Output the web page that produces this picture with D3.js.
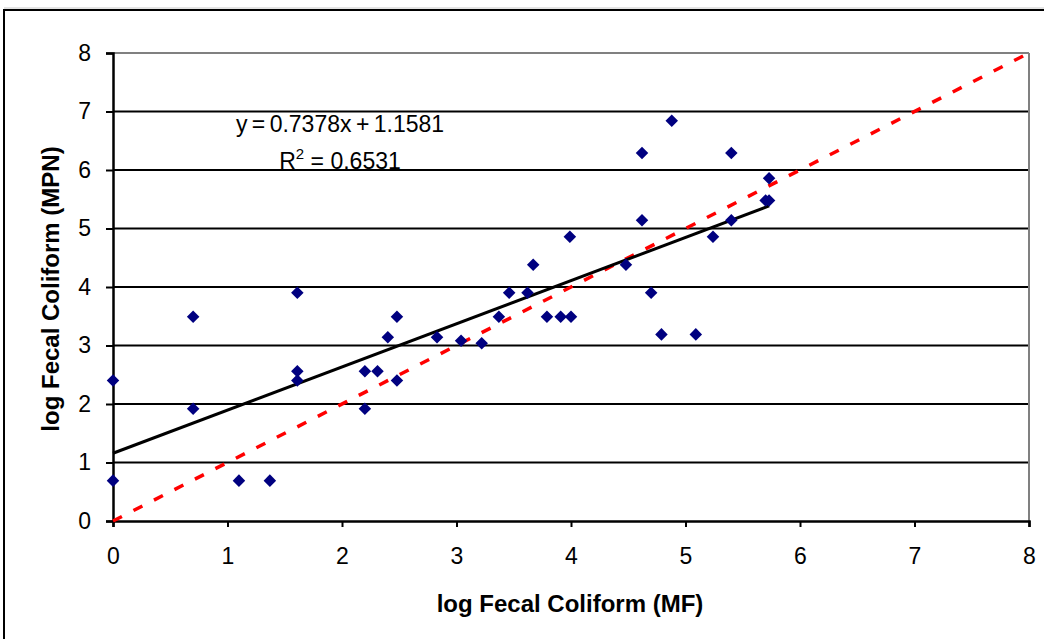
<!DOCTYPE html>
<html>
<head>
<meta charset="utf-8">
<script src="https://cdn.jsdelivr.net/npm/d3@7"></script>
<style>
  body { margin: 0; background: #fff; }
  svg { display: block; font-family: "Liberation Sans", Arial, sans-serif; }
</style>
</head>
<body>
<svg id="chart" width="1044" height="639"></svg>
<script>
"use strict";

// Points: log MF (x) vs log MPN (y)
var mf_values  = [0, 0, 0.70, 0.70, 1.10, 1.37, 1.61, 1.61, 1.61, 2.20, 2.20, 2.31, 2.40, 2.48, 2.48,
                  2.83, 3.04, 3.22, 3.37, 3.46, 3.62, 3.67, 3.79, 3.91, 4.00, 3.99, 4.48, 4.62, 4.62,
                  4.88, 4.70, 4.79, 5.09, 5.24, 5.40, 5.40, 5.73, 5.70, 5.73];
var mpn_values = [2.40, 0.69, 3.49, 1.92, 0.69, 0.69, 3.90, 2.56, 2.40, 2.56, 1.92, 2.56, 3.14, 3.49, 2.40,
                  3.14, 3.08, 3.04, 3.49, 3.90, 3.90, 4.38, 3.49, 3.49, 3.49, 4.86, 4.38, 5.14, 6.29,
                  6.84, 3.90, 3.19, 3.19, 4.86, 5.14, 6.29, 5.86, 5.48, 5.48];
var x_ticks = [0, 1, 2, 3, 4, 5, 6, 7, 8];
var y_ticks = [0, 1, 2, 3, 4, 5, 6, 7, 8];
var fit_slope = 0.7378;
var fit_intercept = 1.1581;
var fit_r2 = "0.6531";

var svg = d3.select("#chart");

// outer chart frame
svg.append("line").attr("x1", 4).attr("x2", 1044).attr("y1", 8).attr("y2", 8)
    .attr("stroke", "#c8c8c8").attr("stroke-width", 1);
svg.append("rect").attr("x", 4).attr("y", 10).attr("width", 1060).attr("height", 660)
    .attr("fill", "none").attr("stroke", "#000").attr("stroke-width", 2);

var plot_left = 113, plot_right = 1029, plot_top = 53, plot_bottom = 521;
var x = d3.scaleLinear().domain([0, 8]).range([plot_left, plot_right]);
var y = d3.scaleLinear().domain([0, 8]).range([plot_bottom, plot_top]);

// gridlines
svg.append("g").selectAll("line").data(y_ticks.filter(function(d) { return d > 0; }))
    .join("line")
    .attr("x1", plot_left).attr("x2", plot_right)
    .attr("y1", function(d) { return y(d); }).attr("y2", function(d) { return y(d); })
    .attr("stroke", function(d) { return d === 8 ? "#808080" : "#000"; })
    .attr("stroke-width", 2);
svg.append("line").attr("x1", plot_right).attr("x2", plot_right).attr("y1", plot_top).attr("y2", plot_bottom)
    .attr("stroke", "#808080").attr("stroke-width", 2);

// axes
var xAxis = svg.append("g").attr("transform", "translate(0," + plot_bottom + ")")
    .call(d3.axisBottom(x).tickValues(x_ticks).tickSize(6).tickPadding(21).tickFormat(d3.format("d")));
var yAxis = svg.append("g").attr("transform", "translate(" + plot_left + ",0)")
    .call(d3.axisLeft(y).tickValues(y_ticks).tickSize(7).tickPadding(15).tickFormat(d3.format("d")));
[xAxis, yAxis].forEach(function(a) {
    a.select(".domain").attr("stroke", "#000").attr("stroke-width", 2.5);
    a.selectAll(".tick line").attr("stroke", "#000").attr("stroke-width", 2);
    a.selectAll(".tick text").attr("fill", "#000").style("font-size", "23px")
        .style("font-family", "'Liberation Sans', Arial, sans-serif");
});

// 1:1 line
svg.append("line")
    .attr("x1", x(0)).attr("y1", y(0)).attr("x2", x(8)).attr("y2", y(8))
    .attr("stroke", "#ff0000").attr("stroke-width", 3.5).attr("stroke-dasharray", "10,13");

// linear fit
var x_max = d3.max(mf_values);
svg.append("line")
    .attr("x1", x(0)).attr("y1", y(fit_intercept))
    .attr("x2", x(x_max)).attr("y2", y(fit_slope * x_max + fit_intercept))
    .attr("stroke", "#000").attr("stroke-width", 3);

// points
var diamond = d3.symbol().type(d3.symbolDiamond2).size(100);
svg.append("g").selectAll("path").data(d3.range(mf_values.length))
    .join("path")
    .attr("d", diamond)
    .attr("transform", function(i) { return "translate(" + x(mf_values[i]) + "," + y(mpn_values[i]) + ")"; })
    .attr("fill", "#000080");

// equation labels
svg.append("text").attr("x", 340).attr("y", 132).attr("text-anchor", "middle")
    .style("font-size", "23px").style("word-spacing", "-2px")
    .text("y = " + fit_slope + "x + " + fit_intercept);
var r2 = svg.append("text").attr("x", 340).attr("y", 169).attr("text-anchor", "middle")
    .style("font-size", "23px");
r2.append("tspan").text("R");
r2.append("tspan").attr("dy", -10).style("font-size", "15px").text("2");
r2.append("tspan").attr("dy", 10).text(" = " + fit_r2);

// axis titles
svg.append("text").attr("x", 570).attr("y", 612).attr("text-anchor", "middle")
    .style("font-size", "24px").style("font-weight", "bold").text("log Fecal Coliform (MF)");
svg.append("text").attr("transform", "translate(59,289) rotate(-90)").attr("text-anchor", "middle")
    .style("font-size", "24px").style("font-weight", "bold").text("log Fecal Coliform (MPN)");
</script>
</body>
</html>
